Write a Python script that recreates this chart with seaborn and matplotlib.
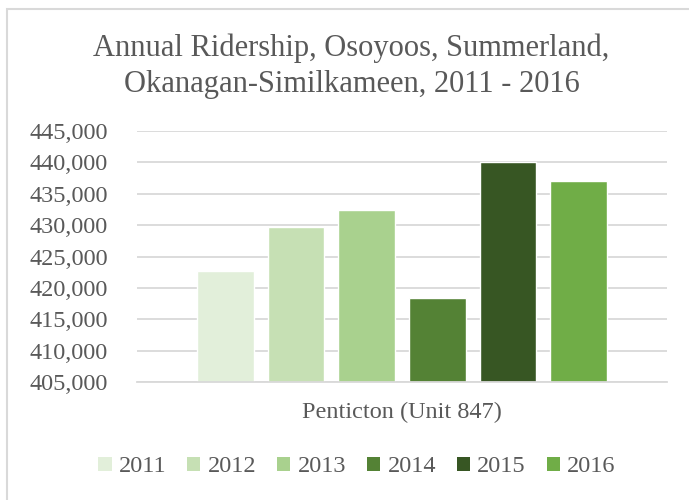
import pandas as pd
import matplotlib.pyplot as plt
import matplotlib.patches as mpatches
import seaborn as sns

# data
years = ['2011', '2012', '2013', '2014', '2015', '2016']
riders = [422700, 429700, 432400, 418400, 440100, 437100]
unit = 'Penticton (Unit 847)'
colors = ['#E2EFDA', '#C6E0B4', '#A9D18E', '#548235', '#375623', '#70AD47']
yticks = [405000, 410000, 415000, 420000, 425000, 430000, 435000, 440000, 445000]

df = pd.DataFrame({'unit': [unit] * len(years), 'year': years, 'riders': riders})

sns.set_style('white')
plt.rcParams['font.family'] = ['Liberation Serif', 'DejaVu Serif']
grey = '#595959'

fig = plt.figure(figsize=(6.89, 5.0), dpi=100)
ax = fig.add_axes([137 / 689, 1 - 382.3 / 500, 530 / 689, 251.4 / 500])

sns.barplot(data=df, x='unit', y='riders', hue='year', palette=colors,
            width=0.799, gap=0.2, ax=ax, legend=False, saturation=1)

ax.set_ylim(405000, 445000)
ax.set_xlim(-0.5, 0.5)
ax.set_yticks(yticks)
ax.set_yticklabels(['{:,}'.format(v) for v in yticks])
ax.yaxis.grid(True, color='#D9D9D9', linewidth=1.3)
ax.set_axisbelow(True)
for s in ['top', 'right', 'left']:
    ax.spines[s].set_visible(False)
ax.spines['bottom'].set_color('#D9D9D9')
ax.spines['bottom'].set_linewidth(1.3)
ax.tick_params(axis='y', length=0, pad=21, labelsize=17.5, labelcolor=grey)
ax.tick_params(axis='x', length=0, pad=14, labelsize=17.5, labelcolor=grey)
ax.set_xlabel('')
ax.set_ylabel('')

fig.text(351.5 / 689, 1 - 66 / 500, 'Annual Ridership, Osoyoos, Summerland,\nOkanagan-Similkameen, 2011 - 2016',
         ha='center', va='center', fontsize=22, color=grey, linespacing=1.33)

handles = [mpatches.Patch(facecolor=c, edgecolor='none', label=y) for c, y in zip(colors, years)]
fig.legend(handles=handles, loc='center', bbox_to_anchor=(357 / 689, 1 - 467 / 500), ncol=6,
           frameon=False, fontsize=17.5, labelcolor=grey, handlelength=0.55, handleheight=0.55,
           handletextpad=0.3, columnspacing=0.85)

# chart area border
fig.patches.append(mpatches.Rectangle((7 / 689, -0.1), 1.2, 1.1 - 9 / 500, transform=fig.transFigure,
                                      fill=False, edgecolor='#D9D9D9', linewidth=1.5))

fig.savefig('out.png', dpi=100)
